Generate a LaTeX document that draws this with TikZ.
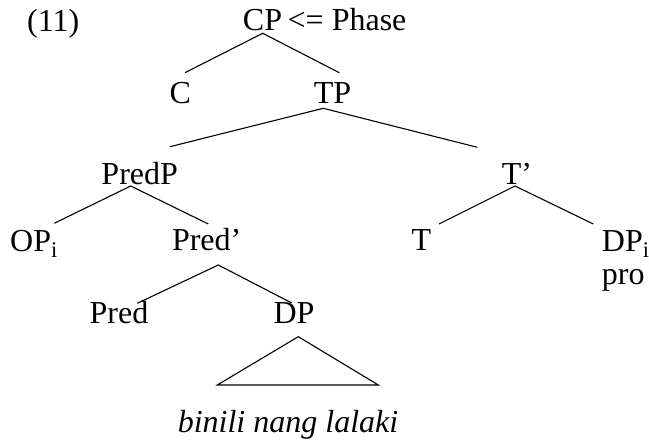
\documentclass[tikz,border=0pt]{standalone}
\usepackage{fontspec}
\setmainfont{Liberation Serif}
\begin{document}
\begin{tikzpicture}[x=1pt,y=-1pt,
  lab/.style={inner sep=0pt, anchor=base, font=\fontsize{32}{36.8}\selectfont},
  labw/.style={lab, anchor=base west},
  edge/.style={line width=1.1pt}]
\useasboundingbox (0,0) rectangle (649,443);
% labels
\node[lab] (ex) at (53.3,31.5) {(11)};
\node[lab] (CP) at (262.5,31) {CP};
\node[labw] (phase) at (287.5,31) {<= Phase};
\node[lab] (C) at (180.3,104) {C};
\node[lab] (TP) at (332.5,104) {TP};
\node[lab] (PredP) at (139.7,185) {PredP};
\node[lab] (Tbar) at (517,185) {T’};
\node[labw] (OP) at (10,251.5) {OP\textsubscript{i}};
\node[lab] (Predbar) at (206.7,251) {Pred’};
\node[lab] (T) at (421.3,251) {T};
\node[labw] (DPi) at (601.7,251.5) {DP\textsubscript{i}};
\node[labw] (pro) at (601.7,284.5) {pro};
\node[lab] (Pred) at (119,324) {Pred};
\node[lab] (DP) at (294,324) {DP};
\node[lab, font=\fontsize{32}{36.8}\selectfont\itshape] (words) at (288,433) {binili nang lalaki};
% connector end points
\coordinate (CP-b) at (262.7,33.3);
\coordinate (C-t) at (185,72.7);
\coordinate (TP-t) at (339.3,72.7);
\coordinate (TP-b) at (323.3,108.3);
\coordinate (PredP-t) at (170,146.7);
\coordinate (Tbar-t) at (477.3,147.3);
\coordinate (PredP-b) at (130.7,186);
\coordinate (OP-t) at (54.3,223.3);
\coordinate (Predbar-t) at (208.3,224);
\coordinate (Tbar-b) at (515,186);
\coordinate (T-t) at (439,224);
\coordinate (DPi-t) at (593.3,224);
\coordinate (Predbar-b) at (218.3,265);
\coordinate (Pred-t) at (137.3,303.3);
\coordinate (DP-t) at (291.7,303);
\coordinate (DP-b) at (298.3,336.7);
\coordinate (tri-l) at (217.3,385);
\coordinate (tri-r) at (378.3,385);
% branches
\draw[edge] (C-t) -- (CP-b) -- (TP-t);
\draw[edge] (PredP-t) -- (TP-b) -- (Tbar-t);
\draw[edge] (OP-t) -- (PredP-b) -- (Predbar-t);
\draw[edge] (T-t) -- (Tbar-b) -- (DPi-t);
\draw[edge] (Pred-t) -- (Predbar-b) -- (DP-t);
\draw[edge] (DP-b) -- (tri-l) -- (tri-r) -- cycle;
\end{tikzpicture}
\end{document}
